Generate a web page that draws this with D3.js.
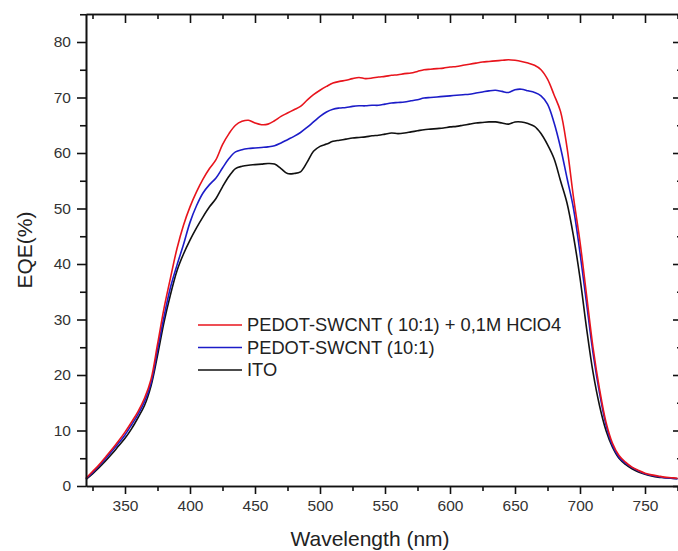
<!DOCTYPE html>
<html>
<head>
<meta charset="utf-8">
<script src="https://cdn.jsdelivr.net/npm/d3@7"></script>
<style>
  html, body { margin: 0; padding: 0; background: #fff; }
  svg { display: block; font-family: "Liberation Sans", Arial, sans-serif; }
</style>
</head>
<body>
<div id="chart"></div>
<script>
// == DATA ==
const wavelengths = [
  320, 325, 330, 335, 340, 345, 350, 355, 360, 365, 370, 375, 380, 385, 390, 395,
  400, 405, 410, 415, 420, 425, 430, 435, 440, 445, 450, 455, 460, 465, 470, 475,
  480, 485, 490, 495, 500, 505, 510, 515, 520, 525, 530, 535, 540, 545, 550, 555,
  560, 565, 570, 575, 580, 585, 590, 595, 600, 605, 610, 615, 620, 625, 630, 635,
  640, 645, 650, 655, 660, 665, 670, 675, 680, 685, 690, 695, 700, 705, 710, 715,
  720, 725, 730, 735, 740, 745, 750, 755, 760, 765, 770, 775
];

const eqeAcid = [
  1.4, 2.6, 3.8, 5.2, 6.6, 8.1, 9.7, 11.5, 13.4, 15.8, 19.2, 25.5, 32, 37.5, 42.8, 47,
  50.3, 53, 55.3, 57.2, 58.8, 61.5, 63.5, 65, 65.7, 65.9, 65.4, 65.1, 65.2, 65.8, 66.6, 67.2,
  67.8, 68.4, 69.5, 70.5, 71.3, 72, 72.6, 72.9, 73.1, 73.4, 73.6, 73.4, 73.5, 73.7, 73.8, 74,
  74.1, 74.3, 74.4, 74.7, 75, 75.1, 75.2, 75.3, 75.5, 75.6, 75.8, 76, 76.2, 76.4, 76.5, 76.6,
  76.7, 76.8, 76.7, 76.5, 76.2, 75.8, 75, 73.3, 70.5, 67.5, 61, 52, 44, 34.5, 25, 17.5,
  11.5, 7.7, 5.5, 4.3, 3.4, 2.8, 2.3, 2, 1.8, 1.6, 1.5, 1.4
];

const eqePedot = [
  1.3, 2.4, 3.6, 4.9, 6.3, 7.7, 9.2, 11, 12.9, 15.2, 18.5, 24.5, 30.5, 35.8, 39.8, 43.5,
  47.5, 50.5, 52.8, 54.3, 55.5, 57.3, 59, 60.2, 60.6, 60.8, 60.9, 61, 61.1, 61.3, 61.8, 62.4,
  63, 63.7, 64.6, 65.6, 66.6, 67.4, 67.9, 68.1, 68.2, 68.4, 68.5, 68.5, 68.6, 68.6, 68.8, 69,
  69.1, 69.2, 69.4, 69.6, 69.9, 70, 70.1, 70.2, 70.3, 70.4, 70.5, 70.6, 70.8, 71, 71.2, 71.3,
  71.1, 70.9, 71.4, 71.5, 71.2, 70.9, 70.3, 68.8, 65.5, 61, 55.5, 50, 42, 33, 24, 16.8,
  11, 7.3, 5.2, 4.1, 3.3, 2.7, 2.2, 1.9, 1.7, 1.5, 1.4, 1.3
];

const eqeIto = [
  1.2, 2.2, 3.3, 4.5, 5.8, 7.2, 8.6, 10.3, 12.3, 14.5, 18, 23.5, 29.5, 34.5, 38.8, 41.8,
  44.3, 46.5, 48.5, 50.3, 51.8, 53.9, 55.8, 57.2, 57.6, 57.8, 57.9, 58, 58.1, 58, 57.2, 56.3,
  56.3, 56.6, 58.3, 60.3, 61.2, 61.6, 62.1, 62.3, 62.5, 62.7, 62.8, 62.9, 63.1, 63.2, 63.4, 63.6,
  63.5, 63.6, 63.8, 64, 64.2, 64.3, 64.4, 64.5, 64.7, 64.8, 65, 65.2, 65.4, 65.5, 65.6, 65.6,
  65.4, 65.2, 65.6, 65.6, 65.3, 64.8, 63.5, 61.5, 59, 55, 51, 45, 37.5, 28.5, 20.5, 14.5,
  10, 7, 5, 3.9, 3.1, 2.5, 2.1, 1.8, 1.6, 1.5, 1.4, 1.3
];

const seriesNames = ['PEDOT-SWCNT ( 10:1) + 0,1M HClO4', 'PEDOT-SWCNT (10:1)', 'ITO'];
const seriesValues = [eqeAcid, eqePedot, eqeIto];
const seriesColors = ['#e8141c', '#1c1cc8', '#111111'];

const xMajorTicks = [350, 400, 450, 500, 550, 600, 650, 700, 750];
const xMinorTicks = [325, 375, 425, 475, 525, 575, 625, 675, 725, 775];
const yMajorTicks = [0, 10, 20, 30, 40, 50, 60, 70, 80];
const yMinorTicks = [5, 15, 25, 35, 45, 55, 65, 75, 85];

// == LAYOUT ==
const W = 678, H = 551;
const M_LEFT = 86, M_RIGHT = 681, M_TOP = 14, M_BOTTOM = 486;

const svg = d3.select('#chart').append('svg')
  .attr('width', W)
  .attr('height', H);

const x = d3.scaleLinear().domain([320, 320 + (M_RIGHT - M_LEFT) / 1.3]).range([M_LEFT, M_RIGHT]);
const y = d3.scaleLinear().domain([0, (M_BOTTOM - M_TOP) / 5.55]).range([M_BOTTOM, M_TOP]);

// == CURVES ==
const line = d3.line()
  .x(d => x(d[0]))
  .y(d => y(d[1]))
  .curve(d3.curveCatmullRom.alpha(0.5));

// draw ITO first so red ends on top
seriesValues.slice().reverse().forEach((vals, ri) => {
  const i = seriesValues.length - 1 - ri;
  svg.append('path')
    .datum(wavelengths.map((w, k) => [w, vals[k]]))
    .attr('fill', 'none')
    .attr('stroke', seriesColors[i])
    .attr('stroke-width', 1.6)
    .attr('stroke-linejoin', 'round')
    .attr('d', line);
});

// == AXES ==
function styleAxis(g) {
  g.select('.domain').attr('stroke', '#111').attr('stroke-width', 1.6);
  g.selectAll('.tick line').attr('stroke', '#111').attr('stroke-width', 1.6);
  g.selectAll('.tick text')
    .attr('fill', '#333')
    .style('font-size', '15.5px')
    .style('font-family', '"Liberation Sans", Arial, sans-serif');
}

// bottom
svg.append('g').attr('transform', `translate(0,${M_BOTTOM})`)
  .call(d3.axisBottom(x).tickValues(xMinorTicks).tickSize(5).tickFormat('').tickSizeOuter(0))
  .call(styleAxis);
svg.append('g').attr('transform', `translate(0,${M_BOTTOM})`)
  .call(d3.axisBottom(x).tickValues(xMajorTicks).tickSize(8).tickPadding(6).tickSizeOuter(0))
  .call(styleAxis);

// top (ticks inward)
svg.append('g').attr('transform', `translate(0,${M_TOP})`)
  .call(d3.axisBottom(x).tickValues(xMinorTicks).tickSize(5).tickFormat('').tickSizeOuter(0))
  .call(styleAxis);
svg.append('g').attr('transform', `translate(0,${M_TOP})`)
  .call(d3.axisBottom(x).tickValues(xMajorTicks).tickSize(9).tickFormat('').tickSizeOuter(0))
  .call(styleAxis);

// left
svg.append('g').attr('transform', `translate(${M_LEFT},0)`)
  .call(d3.axisLeft(y).tickValues(yMinorTicks).tickSize(6).tickFormat('').tickSizeOuter(0))
  .call(styleAxis);
svg.append('g').attr('transform', `translate(${M_LEFT},0)`)
  .call(d3.axisLeft(y).tickValues(yMajorTicks).tickSize(9).tickPadding(6).tickSizeOuter(0))
  .call(styleAxis);

// right (ticks inward)
svg.append('g').attr('transform', `translate(${M_RIGHT},0)`)
  .call(d3.axisLeft(y).tickValues(yMinorTicks).tickSize(4).tickFormat('').tickSizeOuter(0))
  .call(styleAxis);
svg.append('g').attr('transform', `translate(${M_RIGHT},0)`)
  .call(d3.axisLeft(y).tickValues(yMajorTicks).tickSize(8).tickFormat('').tickSizeOuter(0))
  .call(styleAxis);

// == TITLES ==
svg.append('text')
  .attr('x', 370)
  .attr('y', 546)
  .attr('text-anchor', 'middle')
  .attr('fill', '#222')
  .style('font-size', '21px')
  .text('Wavelength (nm)');

svg.append('text')
  .attr('transform', 'translate(32,250) rotate(-90)')
  .attr('text-anchor', 'middle')
  .attr('fill', '#222')
  .style('font-size', '21px')
  .text('EQE(%)');

// == LEGEND ==
const legend = svg.append('g').attr('transform', 'translate(198,325)');
seriesNames.forEach((name, i) => {
  const row = legend.append('g').attr('transform', `translate(0,${i * 22.5})`);
  row.append('line')
    .attr('x1', 0).attr('x2', 44)
    .attr('stroke', seriesColors[i])
    .attr('stroke-width', 1.6);
  row.append('text')
    .attr('x', 49)
    .attr('dy', '0.35em')
    .attr('fill', '#222')
    .style('font-size', '18.3px')
    .text(name);
});
</script>
</body>
</html>
